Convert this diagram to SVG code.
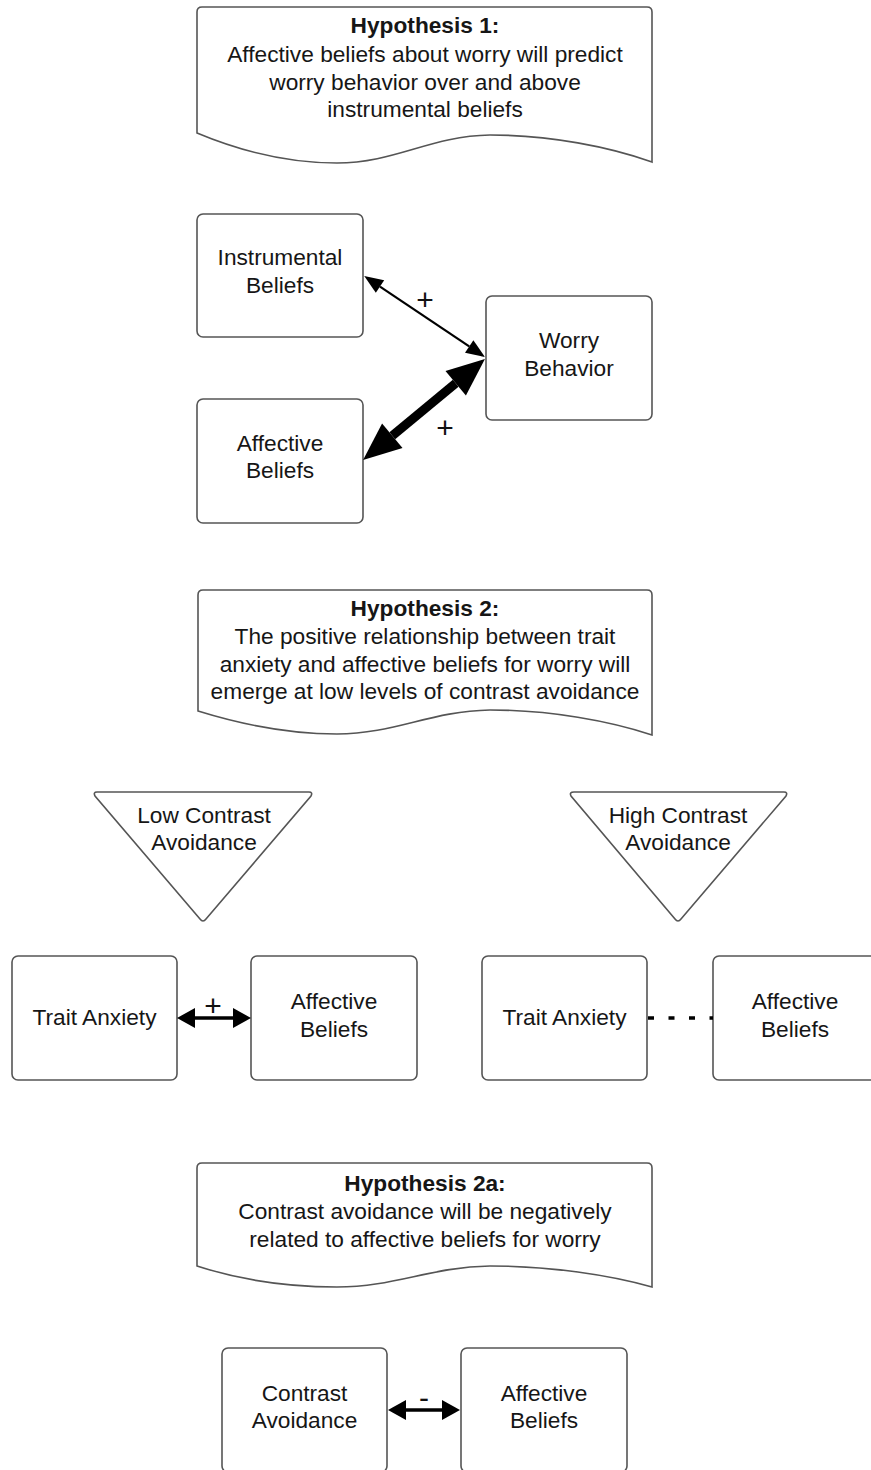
<svg xmlns="http://www.w3.org/2000/svg" width="871" height="1470" viewBox="0 0 871 1470">
  <style>
    .shape { fill: #ffffff; stroke: #555555; stroke-width: 1.6; }
    .label { font-family: "Liberation Sans", Arial, sans-serif; font-size: 22.7px; fill: #161616; text-anchor: middle; }
    .title { font-weight: bold; }
    .sign { font-family: "Liberation Sans", Arial, sans-serif; font-size: 30px; fill: #111111; text-anchor: middle; }
    .link { fill: none; stroke: #000000; }
  </style>
  <defs>
    <marker id="headThin" markerUnits="userSpaceOnUse" markerWidth="19" markerHeight="15" refX="0" refY="7.5" orient="auto-start-reverse" overflow="visible">
      <path d="M0,0 L19,7.5 L0,15 z" fill="#000"/>
    </marker>
    <marker id="headThick" markerUnits="userSpaceOnUse" markerWidth="38" markerHeight="32" refX="0" refY="16" orient="auto-start-reverse" overflow="visible">
      <path d="M0,0 L38,16 L0,32 z" fill="#000"/>
    </marker>
    <marker id="headSmall" markerUnits="userSpaceOnUse" markerWidth="18" markerHeight="20" refX="0" refY="10" orient="auto-start-reverse" overflow="visible">
      <path d="M0,0 L18,10 L0,20 z" fill="#000"/>
    </marker>
  </defs>

  <!-- Hypothesis 1 document -->
  <g id="hyp1">
    <path class="shape" d="M197,133 L197,12 Q197,7 202,7 L647,7 Q652,7 652,12 L652,162 C610,147 550,135 490,135 C430,136 395,163 337,163 C285,163 240,151 197,133 Z"/>
    <text class="label title" x="425" y="33">Hypothesis 1:</text>
    <text class="label" x="425" y="62">Affective beliefs about worry will predict</text>
    <text class="label" x="425" y="90">worry behavior over and above</text>
    <text class="label" x="425" y="117">instrumental beliefs</text>
  </g>

  <g id="instrumental">
    <rect class="shape" x="197" y="214" width="166" height="123" rx="6"/>
    <text class="label" x="280" y="265">Instrumental</text>
    <text class="label" x="280" y="293">Beliefs</text>
  </g>

  <g id="worry">
    <rect class="shape" x="486" y="296" width="166" height="124" rx="6"/>
    <text class="label" x="569" y="348">Worry</text>
    <text class="label" x="569" y="376">Behavior</text>
  </g>

  <g id="affective1">
    <rect class="shape" x="197" y="399" width="166" height="124" rx="6"/>
    <text class="label" x="280" y="451">Affective</text>
    <text class="label" x="280" y="478">Beliefs</text>
  </g>

  <!-- Hypothesis 2 document -->
  <g id="hyp2">
    <path class="shape" d="M198,711 L198,595 Q198,590 203,590 L647,590 Q652,590 652,595 L652,735 C610,721 550,710 490,710 C430,711 395,734 337,734 C285,734 240,724 198,711 Z"/>
    <text class="label title" x="425" y="616">Hypothesis 2:</text>
    <text class="label" x="425" y="644">The positive relationship between trait</text>
    <text class="label" x="425" y="672">anxiety and affective beliefs for worry will</text>
    <text class="label" x="425" y="699">emerge at low levels of contrast avoidance</text>
  </g>

  <g id="lowContrast">
    <path class="shape" d="M97,792 L309,792 Q313,792 311,796 L206,919 Q203,923 200,919 L95,796 Q93,792 97,792 Z"/>
    <text class="label" x="204" y="823">Low Contrast</text>
    <text class="label" x="204" y="850">Avoidance</text>
  </g>

  <g id="highContrast">
    <path class="shape" d="M574,792 L784,792 Q788,792 786,796 L681,919 Q678,923 675,919 L571,796 Q569,792 574,792 Z"/>
    <text class="label" x="678" y="823">High Contrast</text>
    <text class="label" x="678" y="850">Avoidance</text>
  </g>

  <g id="traitLow">
    <rect class="shape" x="12" y="956" width="165" height="124" rx="6"/>
    <text class="label" x="94.5" y="1025">Trait Anxiety</text>
  </g>

  <g id="affectiveLow">
    <rect class="shape" x="251" y="956" width="166" height="124" rx="6"/>
    <text class="label" x="334" y="1009">Affective</text>
    <text class="label" x="334" y="1037">Beliefs</text>
  </g>

  <g id="traitHigh">
    <rect class="shape" x="482" y="956" width="165" height="124" rx="6"/>
    <text class="label" x="564.5" y="1025">Trait Anxiety</text>
  </g>

  <g id="affectiveHigh">
    <rect class="shape" x="713" y="956" width="166" height="124" rx="6"/>
    <text class="label" x="795" y="1009">Affective</text>
    <text class="label" x="795" y="1037">Beliefs</text>
  </g>

  <!-- Hypothesis 2a document -->
  <g id="hyp2a">
    <path class="shape" d="M197,1266 L197,1168 Q197,1163 202,1163 L647,1163 Q652,1163 652,1168 L652,1287 C610,1275 550,1266 490,1266 C430,1267 395,1287 337,1287 C285,1287 240,1280 197,1266 Z"/>
    <text class="label title" x="425" y="1191">Hypothesis 2a:</text>
    <text class="label" x="425" y="1219">Contrast avoidance will be negatively</text>
    <text class="label" x="425" y="1247">related to affective beliefs for worry</text>
  </g>

  <g id="contrast">
    <rect class="shape" x="222" y="1348" width="165" height="124" rx="6"/>
    <text class="label" x="304.5" y="1401">Contrast</text>
    <text class="label" x="304.5" y="1428">Avoidance</text>
  </g>

  <g id="affective2a">
    <rect class="shape" x="461" y="1348" width="166" height="124" rx="6"/>
    <text class="label" x="544" y="1401">Affective</text>
    <text class="label" x="544" y="1428">Beliefs</text>
  </g>

  <!-- connectors -->
  <g id="connectors">
    <line class="link" x1="380" y1="286.6" x2="469.2" y2="346.4" stroke-width="2.2" marker-start="url(#headThin)" marker-end="url(#headThin)"/>
    <text class="sign" x="425" y="310">+</text>

    <line class="link" x1="392.3" y1="435.8" x2="455.7" y2="383.2" stroke-width="9" marker-start="url(#headThick)" marker-end="url(#headThick)"/>
    <text class="sign" x="445" y="438">+</text>

    <line class="link" x1="195" y1="1018" x2="233" y2="1018" stroke-width="3.5" marker-start="url(#headSmall)" marker-end="url(#headSmall)"/>
    <text class="sign" x="213" y="1016">+</text>

    <line class="link" x1="648" y1="1018" x2="713" y2="1018" stroke-width="3.5" stroke-dasharray="6 14.5"/>

    <line class="link" x1="406" y1="1410" x2="442" y2="1410" stroke-width="3.5" marker-start="url(#headSmall)" marker-end="url(#headSmall)"/>
    <text class="sign" x="424" y="1408">-</text>
  </g>
</svg>
